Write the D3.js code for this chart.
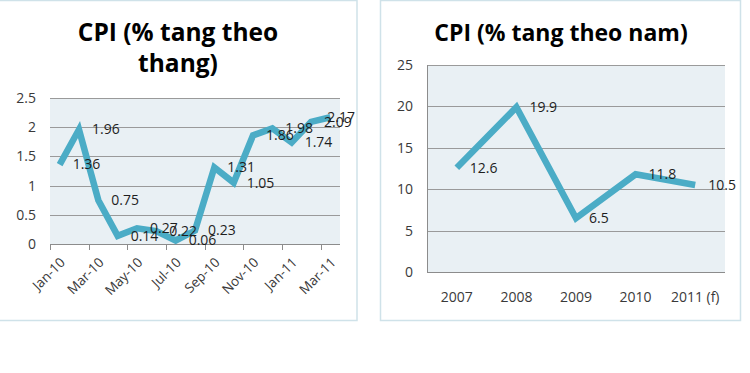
<!DOCTYPE html>
<html><head><meta charset="utf-8">
<script src="https://cdn.jsdelivr.net/npm/d3@7"></script>
<style>
html,body{margin:0;padding:0;background:#fff;}
svg{display:block;font-family:"Open Sans",sans-serif;}
</style></head>
<body>
<svg id="c" width="750" height="373"></svg>
<script>
// Monthly CPI (% change month over month)
const monthCategories = ["Jan-10","Feb-10","Mar-10","Apr-10","May-10","Jun-10","Jul-10","Aug-10","Sep-10","Oct-10","Nov-10","Dec-10","Jan-11","Feb-11","Mar-11"];
const monthValues = [1.36,1.96,0.75,0.14,0.27,0.22,0.06,0.23,1.31,1.05,1.86,1.98,1.74,2.09,2.17];
const monthTickLabels = ["Jan-10","Mar-10","May-10","Jul-10","Sep-10","Nov-10","Jan-11","Mar-11"];
const monthYTicks = [0,0.5,1,1.5,2,2.5];

// Yearly CPI (% change year over year)
const yearCategories = ["2007","2008","2009","2010","2011 (f)"];
const yearValues = [12.6,19.9,6.5,11.8,10.5];
const yearYTicks = [0,5,10,15,20,25];

const svg = d3.select("#c");
const lineColor = "#4bacc6";
const textColor = "#3a3a3a";

// panel borders
svg.append("rect").attr("x",-2).attr("y",0.5).attr("width",359).attr("height",320)
  .attr("fill","none").attr("stroke","#cfe2e9").attr("stroke-width",1.5);
svg.append("rect").attr("x",380.5).attr("y",0.5).attr("width",360).attr("height",320)
  .attr("fill","none").attr("stroke","#cfe2e9").attr("stroke-width",1.5);

function drawChart(o){
  const g = svg.append("g");
  const x = d3.scaleBand().domain(o.categories).range([o.x0,o.x1]);
  const y = d3.scaleLinear().domain([0,o.ymax]).range([o.y0,o.y1]);
  // plot area
  g.append("rect").attr("x",o.x0).attr("y",o.y1).attr("width",o.x1-o.x0).attr("height",o.y0-o.y1)
    .attr("fill","#e9f0f4");
  // gridlines
  g.append("g").selectAll("line").data(o.yticks.filter(d=>d>0)).join("line")
    .attr("x1",o.x0).attr("x2",o.x1).attr("y1",d=>Math.round(y(d))+0.5).attr("y2",d=>Math.round(y(d))+0.5)
    .attr("stroke","#9a9a9a").attr("stroke-width",1);
  // y labels
  g.append("g").selectAll("text").data(o.yticks).join("text")
    .attr("x",o.x0-14).attr("y",d=>y(d)).attr("dy","0.35em").attr("text-anchor","end")
    .attr("font-size",14).attr("fill",textColor).text(d=>d);
  // x axis line
  g.append("line").attr("x1",o.x0).attr("x2",o.x1).attr("y1",Math.round(y(0))+0.5).attr("y2",Math.round(y(0))+0.5)
    .attr("stroke","#8c8c8c").attr("stroke-width",1);
  if(o.yAxisLine){
    g.append("line").attr("x1",o.x0+0.5).attr("x2",o.x0+0.5).attr("y1",o.y1).attr("y2",o.y0)
      .attr("stroke","#8c8c8c").attr("stroke-width",1);
  }
  o.extra && o.extra(g,x,y);
  // line
  const line = d3.line().x((d,i)=>x(o.categories[i])+x.bandwidth()/2).y(d=>y(d)).curve(d3.curveLinear);
  g.append("path").datum(o.values).attr("d",line).attr("fill","none")
    .attr("stroke",lineColor).attr("stroke-width",6.5).attr("stroke-linejoin","miter").attr("stroke-linecap","butt");
  // data labels (kept inside the panel like the source)
  g.append("g").selectAll("text").data(o.values).join("text")
    .attr("x",(d,i)=>x(o.categories[i])+x.bandwidth()/2+13).attr("y",d=>y(d)).attr("dy","0.35em")
    .attr("font-size",14).attr("fill","#1e1e1e").text(d=>d)
    .each(function(){
      const w = this.getComputedTextLength();
      const cx = +this.getAttribute("x");
      if(cx + w > o.maxRight) this.setAttribute("x", o.maxRight - w);
    });
  // title
  o.title.forEach((t,i)=>{
    g.append("text").attr("x",o.tx).attr("y",o.ty+i*o.tlh).attr("text-anchor","middle")
      .attr("font-size",o.tsize).attr("font-weight","bold").attr("fill","#000").text(t);
  });
}

drawChart({
  categories: monthCategories, values: monthValues, yticks: monthYTicks, ymax: 2.5,
  x0: 50, x1: 340, y0: 244, y1: 98, maxRight: 355,
  title: ["CPI (% tang theo","thang)"], tx: 178, ty: 41, tlh: 31, tsize: 24.5,
  extra: (g,x,y)=>{
    const bounds = d3.range(0,monthCategories.length,2).map(i=>x(monthCategories[i]));
    g.append("g").selectAll("line").data(bounds).join("line")
      .attr("x1",d=>Math.round(d)+0.5).attr("x2",d=>Math.round(d)+0.5).attr("y1",244).attr("y2",250)
      .attr("stroke","#8c8c8c");
    g.append("g").selectAll("text").data(monthTickLabels).join("text")
      .attr("transform",d=>`translate(${x(d)+x.bandwidth()/2+3},${260}) rotate(-45)`)
      .attr("text-anchor","end").attr("dy","0.35em").attr("font-size",13.5).attr("fill",textColor).text(d=>d);
  }
});

drawChart({
  categories: yearCategories, values: yearValues, yticks: yearYTicks, ymax: 25,
  x0: 427, x1: 725, y0: 272, y1: 65, yAxisLine: true, maxRight: 738,
  title: ["CPI (% tang theo nam)"], tx: 561, ty: 41, tlh: 0, tsize: 23,
  extra: (g,x,y)=>{
    g.append("g").selectAll("text").data(yearCategories).join("text")
      .attr("x",d=>x(d)+x.bandwidth()/2).attr("y",297).attr("dy","0.35em").attr("text-anchor","middle")
      .attr("font-size",14).attr("fill",textColor).text(d=>d);
  }
});
</script>
</body></html>
